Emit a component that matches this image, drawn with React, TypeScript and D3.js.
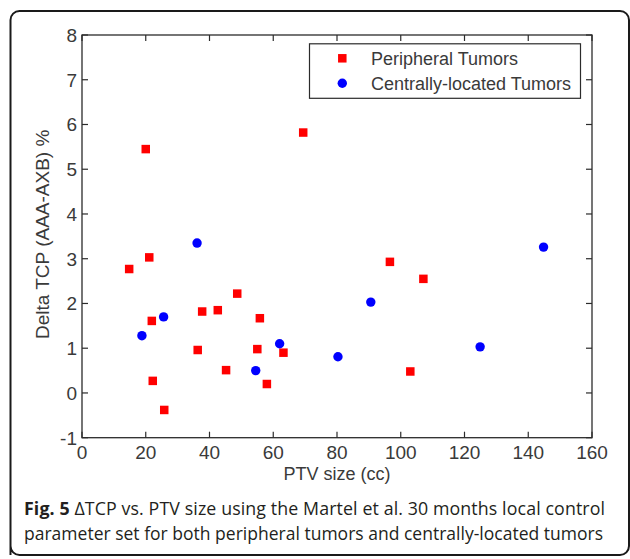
import React from "react";
import * as d3 from "d3";

const peripheralX = [14.8, 21.1, 21.9, 22.2, 25.8, 36.3, 37.7, 42.6, 48.7, 45.2, 55.8, 55.0, 63.2, 58.0, 20.0, 69.4, 96.6, 107.1, 103.0];
const peripheralY = [2.77, 3.03, 1.61, 0.27, -0.38, 0.96, 1.82, 1.85, 2.22, 0.51, 1.67, 0.98, 0.90, 0.20, 5.45, 5.82, 2.93, 2.55, 0.48];
const centralX = [36.1, 25.6, 18.8, 62.0, 54.5, 80.3, 90.6, 124.9, 144.8];
const centralY = [3.35, 1.70, 1.28, 1.10, 0.50, 0.81, 2.03, 1.03, 3.26];
const xTicks = [0, 20, 40, 60, 80, 100, 120, 140, 160];
const yTicks = [-1, 0, 1, 2, 3, 4, 5, 6, 7, 8];
const seriesNames = ["Peripheral Tumors", "Centrally-located Tumors"];
const xLabel = "PTV size (cc)";
const yLabel = "Delta TCP (AAA-AXB) %";

export default function App() {
  const W = 630, H = 559;
  const left = 82, right = 592, top = 35, bottom = 437.7;
  const x = d3.scaleLinear().domain([0, 160]).range([left, right]);
  const y = d3.scaleLinear().domain([-1, 8]).range([bottom, top]);
  const axisColor = "#2b2b2b";
  const textColor = "#3a3a3a";
  const fstyle = { fontFamily: "Liberation Sans, Arial, Helvetica" };
  const cstyle = { fontFamily: "Open Sans" };
  const tickLen = 6;
  const sq = 8.5;
  const frame = d3.path();
  const fx0 = 10.5, fy0 = 11, fx1 = 629, fy1 = 555, r = 9;
  frame.moveTo(fx0, fy1);
  frame.lineTo(fx0, fy0 + r);
  frame.arcTo(fx0, fy0, fx0 + r, fy0, r);
  frame.lineTo(fx1 - r, fy0);
  frame.arcTo(fx1, fy0, fx1, fy0 + r, r);
  frame.lineTo(fx1, fy1 - r);
  frame.arcTo(fx1, fy1, fx1 - r, fy1, r);
  frame.lineTo(fx0 + r, fy1);
  frame.arcTo(fx0, fy1, fx0, fy1 - r, r);
  frame.closePath();

  return (
    <svg width={W} height={H} style={{ position: "absolute", left: 0, top: 0, background: "#fff" }}>
      <rect x={0} y={0} width={W} height={H} fill="#fff" />
      <path d={frame.toString()} fill="none" stroke="#1a1a1a" strokeWidth={2} />
      <rect x={left} y={top} width={right - left} height={bottom - top} fill="none" stroke={axisColor} strokeWidth={1.3} />
      {xTicks.map((t) => (
        <g key={"xt" + t}>
          <line x1={x(t)} x2={x(t)} y1={bottom} y2={bottom - tickLen} stroke={axisColor} strokeWidth={1.2} />
          <line x1={x(t)} x2={x(t)} y1={top} y2={top + tickLen} stroke={axisColor} strokeWidth={1.2} />
          <text x={x(t)} y={459} textAnchor="middle" style={fstyle} fontSize={19} fill={textColor}>{t}</text>
        </g>
      ))}
      {yTicks.map((t) => (
        <g key={"yt" + t}>
          <line x1={left} x2={left + tickLen} y1={y(t)} y2={y(t)} stroke={axisColor} strokeWidth={1.2} />
          <line x1={right} x2={right - tickLen} y1={y(t)} y2={y(t)} stroke={axisColor} strokeWidth={1.2} />
          <text x={left - 5} y={y(t) + 7} textAnchor="end" style={fstyle} fontSize={19} fill={textColor}>{t}</text>
        </g>
      ))}
      <text x={(left + right) / 2} y={480} textAnchor="middle" style={fstyle} fontSize={18} fill={textColor}>{xLabel}</text>
      <text transform={`translate(49, ${(top + bottom) / 2 - 2}) rotate(-90)`} textAnchor="middle" style={fstyle} fontSize={19} fill={textColor}>{yLabel}</text>
      {peripheralX.map((v, i) => (
        <rect key={"p" + i} x={x(v) - sq / 2} y={y(peripheralY[i]) - sq / 2} width={sq} height={sq} fill="#ff0000" />
      ))}
      {centralX.map((v, i) => (
        <circle key={"c" + i} cx={x(v)} cy={y(centralY[i])} r={4.7} fill="#0000ff" />
      ))}
      <rect x={309.5} y={43.8} width={271} height={54.5} fill="#fff" stroke={axisColor} strokeWidth={1.2} />
      <rect x={342.3 - sq / 2} y={58.3 - sq / 2} width={sq} height={sq} fill="#ff0000" />
      <circle cx={342.3} cy={83.3} r={4.7} fill="#0000ff" />
      <text x={371} y={65} style={fstyle} fontSize={18} fill={textColor}>{seriesNames[0]}</text>
      <text x={371} y={90} style={fstyle} fontSize={18} fill={textColor}>{seriesNames[1]}</text>
      <text x={24} y={515} style={cstyle} fontSize={17.8} fill="#231f20" textLength={581} lengthAdjust="spacing">
        <tspan fontWeight="bold">Fig. 5</tspan>
        <tspan> ΔTCP vs. PTV size using the Martel et al. 30 months local control</tspan>
      </text>
      <text x={24} y={540} style={cstyle} fontSize={17.5} fill="#231f20" textLength={579} lengthAdjust="spacing">
        parameter set for both peripheral tumors and centrally-located tumors
      </text>
    </svg>
  );
}
